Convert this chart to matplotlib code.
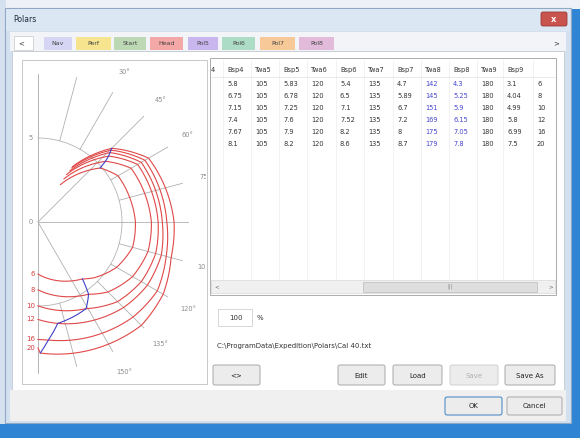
import numpy as np
import matplotlib
matplotlib.use('Agg')
import matplotlib.pyplot as plt
from matplotlib.patches import Rectangle, FancyBboxPatch

W, H = 580, 438

# ---- polar data (Cal 40) ----
tws = [6, 8, 10, 12, 16, 20]
# columns scrolled out of the table, estimated from the drawn curves
twa1 = [31, 31, 31, 32, 32, 32]
bsp1 = [2.6, 3.0, 3.3, 3.6, 3.8, 3.9]
twa2 = [49, 48, 47, 46, 45.5, 45]
bsp2 = [4.9, 5.4, 5.75, 5.95, 6.1, 6.2]
twa3 = [60, 60, 60, 60, 60, 60]
bsp3 = [5.5, 6.4, 6.85, 7.1, 7.35, 7.6]
twa4 = [90, 90, 90, 90, 90, 90]
# visible table columns
bsp4 = [5.8, 6.75, 7.15, 7.4, 7.67, 8.1]
twa5 = [105, 105, 105, 105, 105, 105]
bsp5 = [5.83, 6.78, 7.25, 7.6, 7.9, 8.2]
twa6 = [120, 120, 120, 120, 120, 120]
bsp6 = [5.4, 6.5, 7.1, 7.52, 8.2, 8.6]
twa7 = [135, 135, 135, 135, 135, 135]
bsp7 = [4.7, 5.89, 6.7, 7.2, 8, 8.7]
twa8 = [142, 145, 151, 169, 175, 179]
bsp8 = [4.3, 5.25, 5.9, 6.15, 7.05, 7.8]
twa9 = [180, 180, 180, 180, 180, 180]
bsp9 = [3.1, 4.04, 4.99, 5.8, 6.99, 7.5]

angle_labels = [15, 30, 45, 60, 75, 90, 105, 120, 135, 150, 165]

tab_names = ['Nav', 'Perf', 'Start', 'Head', 'Pol5', 'Pol6', 'Pol7', 'Pol8']
tab_colors = ['#d6d6f4', '#f6e48e', '#bdd8b5', '#f3a7a7', '#c9b6ee', '#acdcc6', '#f7c998', '#e2bbdb']

headers = ['4', 'Bsp4', 'Twa5', 'Bsp5', 'Twa6', 'Bsp6', 'Twa7', 'Bsp7', 'Twa8', 'Bsp8', 'Twa9', 'Bsp9', '']
table_cols = [None, bsp4, twa5, bsp5, twa6, bsp6, twa7, bsp7, twa8, bsp8, twa9, bsp9, tws]

fig = plt.figure(figsize=(W / 100, H / 100), dpi=100)
fig.patch.set_facecolor('#2f84d4')
ax0 = fig.add_axes([0, 0, 1, 1])
ax0.set_xlim(0, W)
ax0.set_ylim(H, 0)
ax0.axis('off')


def box(x0, y0, x1, y1, fc, ec='none', lw=0.6, z=1):
    ax0.add_patch(Rectangle((x0, y0), x1 - x0, y1 - y0, fc=fc, ec=ec, lw=lw, zorder=z))


def button(x0, y0, x1, y1, label, ec='#a8a8a8', tc='#222222'):
    ax0.add_patch(FancyBboxPatch((x0, y0), x1 - x0, y1 - y0, boxstyle='round,pad=0,rounding_size=2',
                                 fc='#ececec', ec=ec, lw=0.7, zorder=3))
    ax0.text((x0 + x1) / 2, (y0 + y1) / 2 + 0.5, label, fontsize=5, color=tc,
             ha='center', va='center', zorder=4)


# background / windows
box(0, 0, W, 9, '#eef2f7')
box(0, 0, 6, 424, '#d5e1ee')
box(5, 8, 571, 423, '#d2e0ef', ec='#8fa8c4', lw=0.8)
box(6, 9, 570, 31, '#dbe7f3')
ax0.text(13, 20, 'Polars', fontsize=5.5, color='#1e2a3a', va='center')
ax0.add_patch(FancyBboxPatch((541, 12), 26, 14, boxstyle='round,pad=0,rounding_size=2',
                             fc='#c9534d', ec='#9c3a36', lw=0.6, zorder=3))
ax0.text(554, 19.5, 'x', fontsize=6, color='white', ha='center', va='center', zorder=4, weight='bold')

# tab strip
box(10, 32, 566, 51, '#f2f4f7')
box(14, 36, 33, 50, '#ffffff', ec='#c8c8c8', lw=0.5)
ax0.text(18, 43, '<', fontsize=5, color='#333', va='center')
ax0.text(553, 43, '>', fontsize=5, color='#333', va='center')
tab_x0 = [44, 76, 114, 150, 188, 222, 260, 299]
tab_x1 = [72, 111, 146, 183, 218, 255, 295, 334]
for name, c, a, b in zip(tab_names, tab_colors, tab_x0, tab_x1):
    box(a, 37, b, 50, c, z=2)
    ax0.text((a + b) / 2, 43.5, name, fontsize=4.5, color='#444444', ha='center', va='center', zorder=3)

# content area
box(12, 51, 564, 390, '#ffffff', ec='#c4c9d0', lw=0.6)
box(10, 390, 566, 421, '#f0f0f0')

# polar panel frame
box(22, 60, 207, 384, 'none', ec='#c8c8c8', lw=0.7, z=2)

# ---- table ----
box(210, 58, 556, 295, '#ffffff', ec='#9e9e9e', lw=0.6, z=2)
col_x = [210.5, 227, 255, 283, 311, 340, 368, 397, 425, 453, 481, 507, 537]
for cx in col_x[1:]:
    ax0.plot([cx - 4, cx - 4], [60, 279], color='#ededed', lw=0.5, zorder=2)
ax0.plot([211, 555], [77, 77], color='#e2e2e2', lw=0.5, zorder=2)
row_y = [84, 96, 108, 120, 132, 144]
for j, (hx, hd, col) in enumerate(zip(col_x, headers, table_cols)):
    ax0.text(hx, 70, hd, fontsize=4.8, color='#333333', va='center', zorder=3)
    if col is None:
        continue
    tc = '#4545d0' if hd in ('Twa8', 'Bsp8') else '#333333'
    for ry, v in zip(row_y, col):
        ax0.text(hx, ry, f'{v:g}', fontsize=4.8, color=tc, va='center', zorder=3)
# horizontal scrollbar
box(211, 280, 555, 293, '#f0f0f0', ec='#d8d8d8', lw=0.5, z=2)
box(363, 281.5, 537, 291.5, '#dedede', ec='#bcbcbc', lw=0.5, z=3)
ax0.text(450, 286.5, '|||', fontsize=3.5, color='#888', ha='center', va='center', zorder=4)
ax0.text(214, 286.5, '<', fontsize=4, color='#666', va='center', zorder=4)
ax0.text(548, 286.5, '>', fontsize=4, color='#666', va='center', zorder=4)

# percentage box and file path
box(218, 309, 252, 326, '#ffffff', ec='#c8c8c8', lw=0.5, z=2)
ax0.text(236, 317.5, '100', fontsize=5, color='#333', ha='center', va='center', zorder=3)
ax0.text(257, 317.5, '%', fontsize=5, color='#333', va='center', zorder=3)
ax0.text(217, 346, r'C:\ProgramData\Expedition\Polars\Cal 40.txt', fontsize=5, color='#333',
         va='center', zorder=3)

# buttons
button(213, 365, 260, 385, '<>')
button(338, 365, 385, 385, 'Edit')
button(393, 365, 442, 385, 'Load')
button(450, 365, 498, 385, 'Save', ec='#d0d0d0', tc='#b0b0b0')
button(505, 365, 555, 385, 'Save As')
button(445, 397, 502, 415, 'OK', ec='#3c82c0')
button(507, 397, 562, 415, 'Cancel')

# ---- polar plot ----
cx, cy, px_per_kt, rmax = 38, 222, 16.8, 10
R = px_per_kt * rmax
axp = fig.add_axes([(cx - R) / W, (H - cy - R) / H, 2 * R / W, 2 * R / H], projection='polar', zorder=5)
axp.set_theta_zero_location('N')
axp.set_theta_direction(-1)
axp.set_ylim(0, rmax)
axp.set_axis_off()
clip = Rectangle((23, 61), 183, 322, transform=ax0.transData)

arts = []
# grid: vertical axis, rings, radial lines
arts += axp.plot([0, 0], [0, 8.8], color='#a8a8a8', lw=0.6)
arts += axp.plot([np.pi, np.pi], [0, 9.0], color='#a8a8a8', lw=0.6)
arts += axp.plot(np.radians([0, 180]), [5, 5], color='#b4b4b4', lw=0.6)
for a in angle_labels:
    r0 = 0 if a in (45, 90, 150) else 5
    arts += axp.plot(np.radians([a, a]), [r0, 8.9], color='#b0b0b0', lw=0.6)
    if a != 90:
        arts.append(axp.text(np.radians(a), 10.3, f'{a}°', fontsize=4.8, color='#8c8c8c',
                             ha='center', va='center'))
arts.append(axp.annotate('5', (0, 5), xytext=(-4, 0), textcoords='offset points', fontsize=4.8,
                         color='#8c8c8c', ha='right', va='center'))
arts.append(axp.annotate('0', (0, 0), xytext=(-4, 0), textcoords='offset points', fontsize=4.8,
                         color='#8c8c8c', ha='right', va='center'))

twa_cols = [twa1, twa2, twa3, twa4, twa5, twa6, twa7, twa8, twa9]
bsp_cols = [bsp1, bsp2, bsp3, bsp4, bsp5, bsp6, bsp7, bsp8, bsp9]
for i, w in enumerate(tws):
    th = np.radians([c[i] for c in twa_cols])
    r = [c[i] for c in bsp_cols]
    arts += axp.plot(th, r, color='#e04848', lw=0.8)
    arts.append(axp.annotate(str(w), (np.pi, bsp9[i]), xytext=(-2, 0), textcoords='offset points',
                             fontsize=5, color='#d64040', ha='right', va='center'))
# optimum VMG lines
arts += axp.plot(np.radians(twa2), bsp2, color='#4040c8', lw=0.8)
arts += axp.plot(np.radians(twa8), bsp8, color='#4040c8', lw=0.8)

for a in arts:
    a.set_clip_on(True)
    a.set_clip_path(clip)
    if hasattr(a, 'get_path'):
        # let the polar transform bend segments like matplotlib's own grid lines
        a.get_path()._interpolation_steps = 60

fig.savefig('out.png', dpi=100, facecolor=fig.get_facecolor())
